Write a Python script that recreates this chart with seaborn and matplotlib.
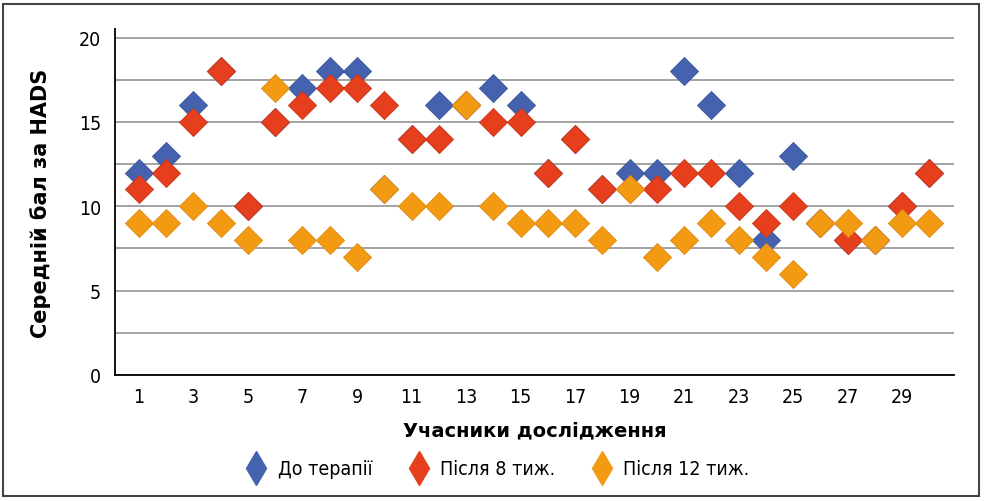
import numpy as np
import pandas as pd
import matplotlib
matplotlib.use("Agg")
import matplotlib.pyplot as plt
from matplotlib.lines import Line2D
from matplotlib.patches import Rectangle
import seaborn as sns

# data
participants = list(range(1, 31))
before = [12, 13, 16, 18, 10, 15, 17, 18, 18, 11, 14, 16, 16, 17, 16,
          12, 14, 11, 12, 12, 18, 16, 12, 8, 13, 9, 8, 8, 10, 12]
after8 = [11, 12, 15, 18, 10, 15, 16, 17, 17, 16, 14, 14, 16, 15, 15,
          12, 14, 11, 11, 11, 12, 12, 10, 9, 10, 9, 8, 8, 10, 12]
after12 = [9, 9, 10, 9, 8, 17, 8, 8, 7, 11, 10, 10, 16, 10, 9,
           9, 9, 8, 11, 7, 8, 9, 8, 7, 6, 9, 9, 8, 9, 9]
series_names = ["До терапії", "Після 8 тиж.", "Після 12 тиж."]
colors = ["#4462AE", "#E53F1D", "#F39A13"]
edges = ["#3A549A", "#C9351A", "#E08A10"]
xtick_labels = [str(i) for i in range(1, 30, 2)]

sns.set_style("white")
plt.rcParams['font.family'] = ['DejaVu Sans']
plt.rcParams['font.stretch'] = 'condensed'
plt.rcParams['text.color'] = 'black'
plt.rcParams['axes.labelcolor'] = 'black'
plt.rcParams['xtick.color'] = 'black'
plt.rcParams['ytick.color'] = 'black'

df = pd.DataFrame({
    "participant": participants * 3,
    "score": before + after8 + after12,
    "series": [series_names[0]] * 30 + [series_names[1]] * 30 + [series_names[2]] * 30,
})

fig = plt.figure(figsize=(9.86, 5.02), dpi=100)
ax = fig.add_axes([0.1166, 0.251, 0.8509, 0.689])

for name, c, ec in zip(series_names, colors, edges):
    sub = df[df.series == name]
    sns.scatterplot(data=sub, x="participant", y="score", marker="D", s=205,
                    color=c, edgecolor=ec, linewidth=0.6, ax=ax, legend=False, zorder=3)

ax.set_xlim(0.12, 30.9)
ax.set_ylim(0, 20.5)
ax.set_yticks([0, 5, 10, 15, 20])
ax.set_yticks(np.arange(0, 20.1, 2.5), minor=True)
ax.set_xticks(list(range(1, 30, 2)))
ax.set_xticklabels(xtick_labels)
ax.grid(True, axis="y", which="both", color="#8a8a8a", linewidth=1.1)
ax.set_axisbelow(True)
ax.tick_params(axis="both", which="both", length=0, labelsize=14)
ax.tick_params(axis="y", pad=10)
ax.tick_params(axis="x", pad=9)

for side in ["top", "right"]:
    ax.spines[side].set_visible(False)
for side in ["left", "bottom"]:
    ax.spines[side].set_color("black")
    ax.spines[side].set_linewidth(1.3)

ax.set_xlabel("Учасники дослідження", fontsize=14, fontweight="bold",
              fontstretch="normal", labelpad=10)
ax.set_ylabel("Середній бал за HADS", fontsize=15, fontweight="bold",
              fontstretch="normal", labelpad=20)

handles = [Line2D([], [], marker="d", linestyle="none", markersize=17,
                  markerfacecolor=c, markeredgecolor=c) for c in colors]
fig.legend(handles, series_names, loc="center", bbox_to_anchor=(0.5, 0.064),
           ncol=3, frameon=False, fontsize=14, handletextpad=0.1, columnspacing=1.4)

fig.patches.append(Rectangle((0.003, 0.01), 0.99, 0.98, transform=fig.transFigure,
                             fill=False, edgecolor="#444444", linewidth=1.5))

fig.savefig("out.png", dpi=100)
